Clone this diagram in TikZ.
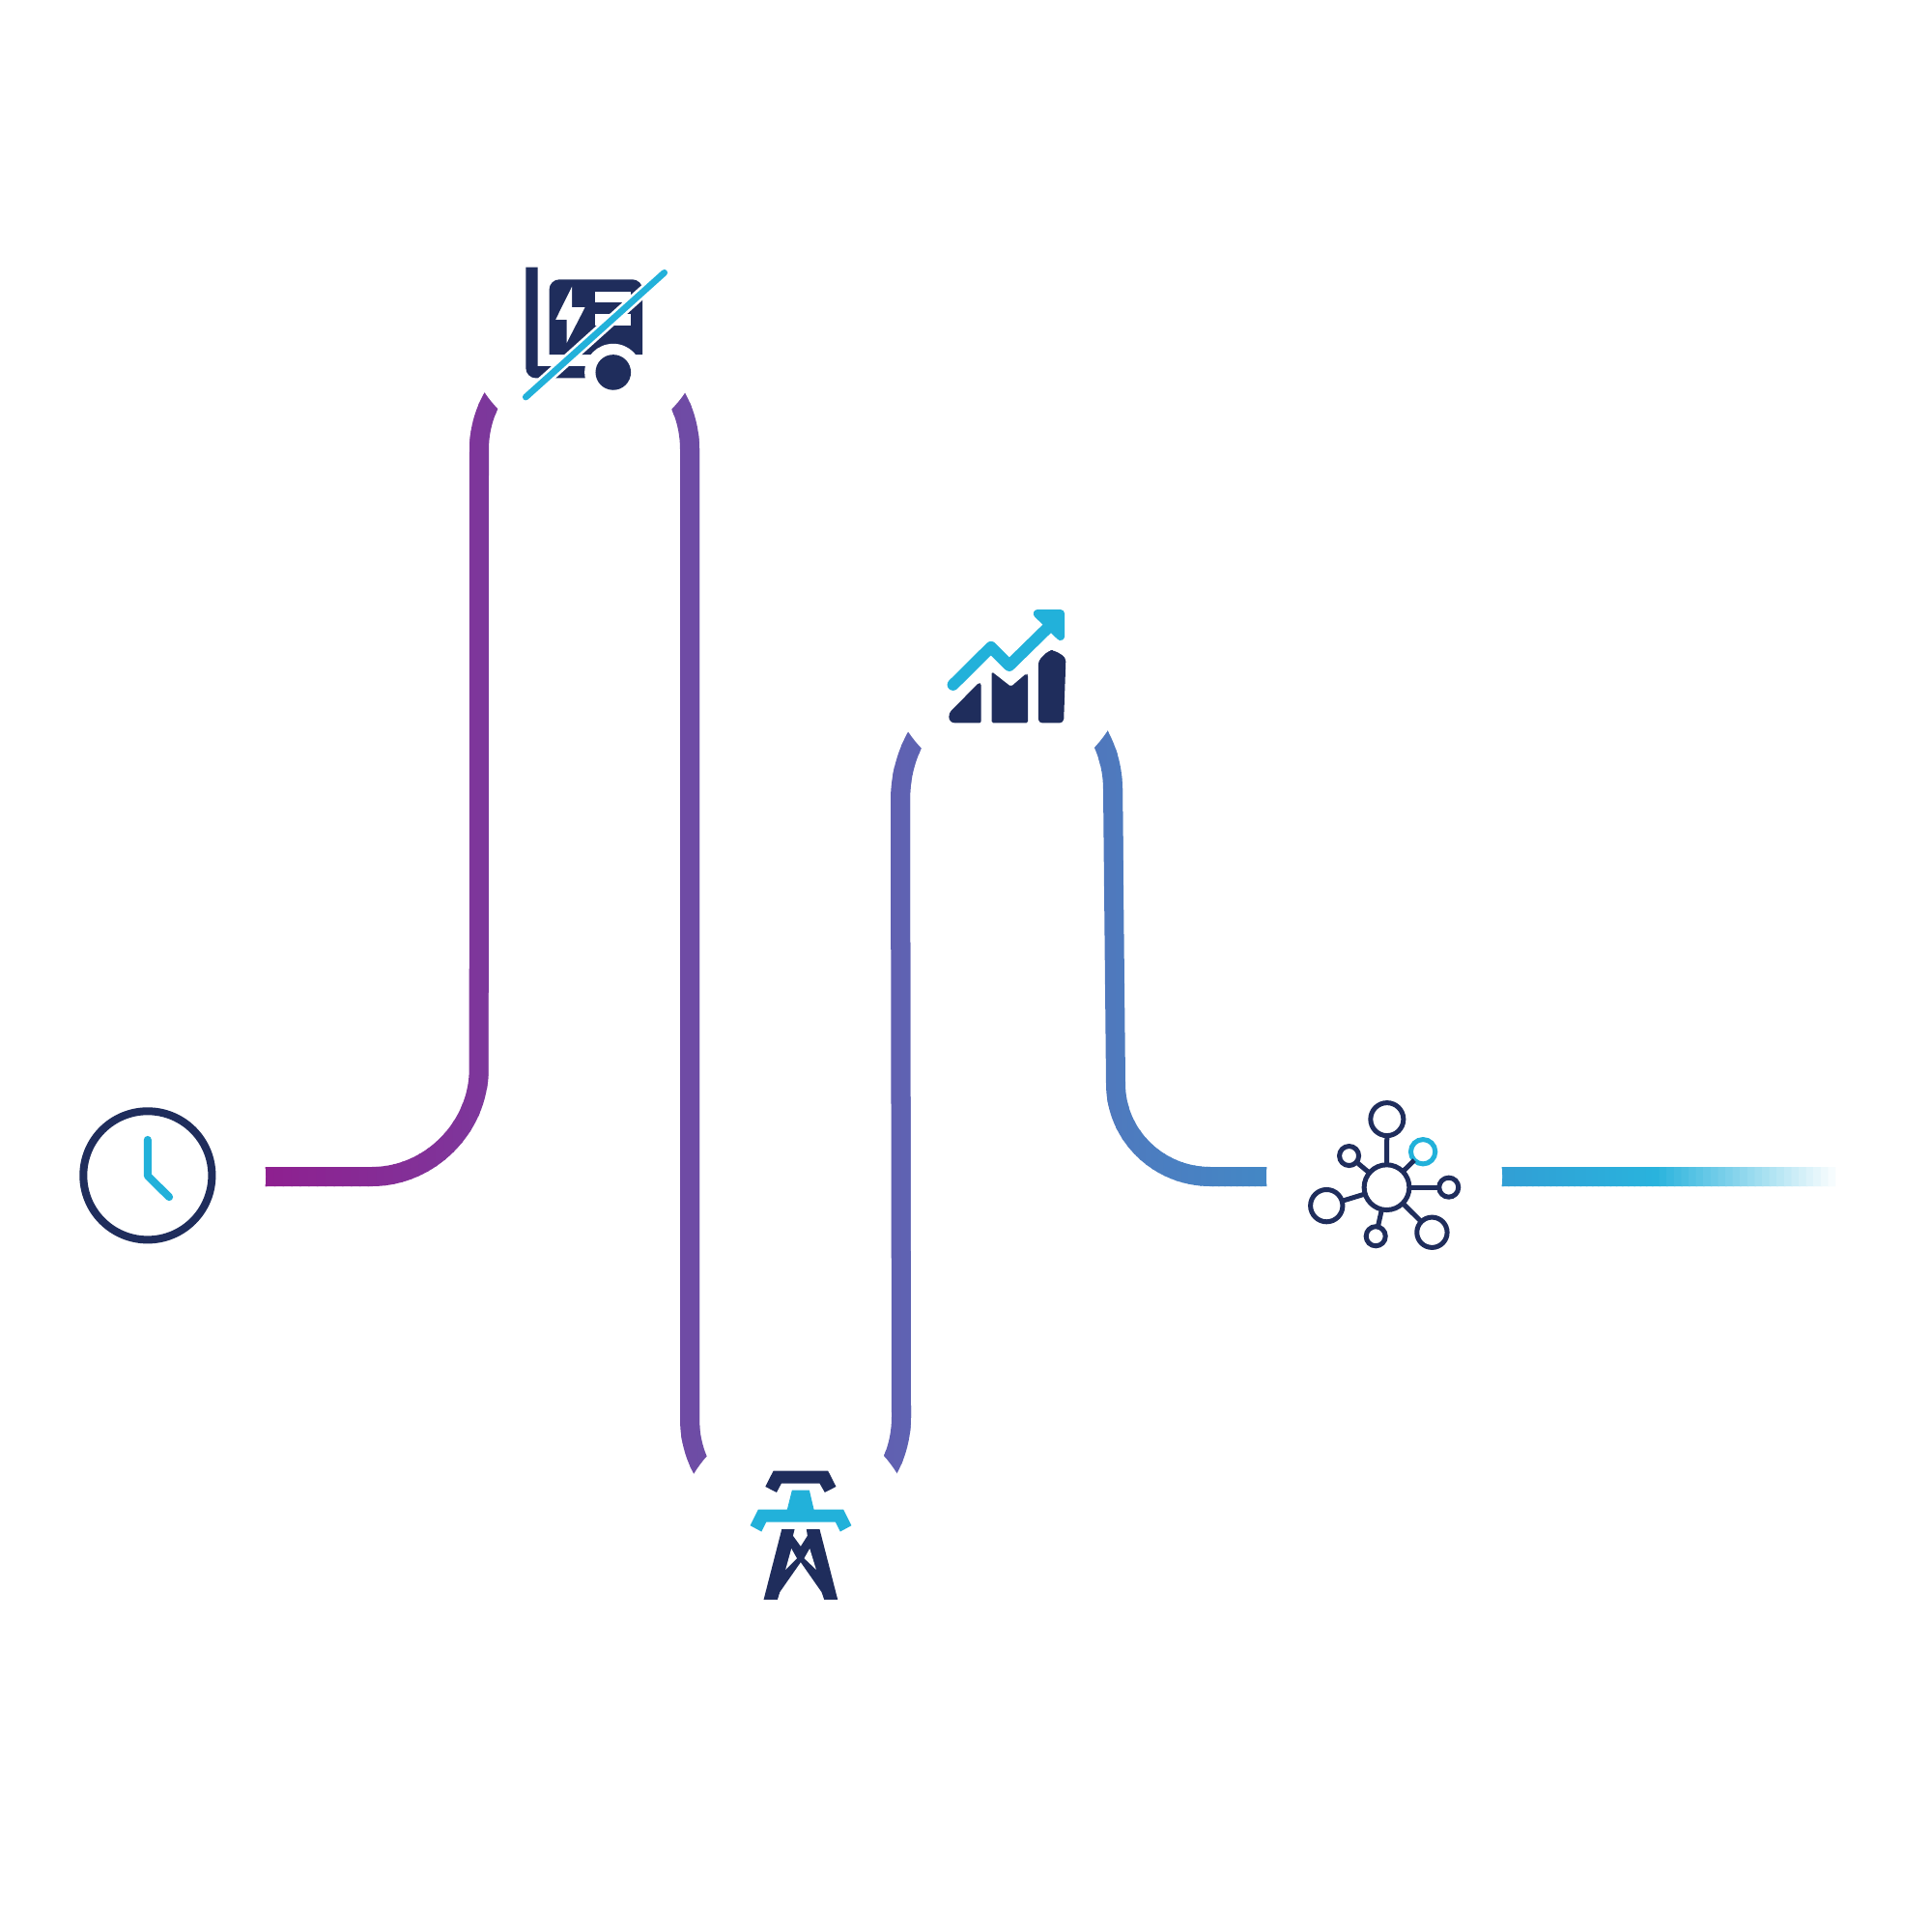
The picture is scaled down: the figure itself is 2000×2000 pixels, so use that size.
\documentclass[tikz,border=0pt]{standalone}
\usetikzlibrary{calc}

\definecolor{iconnavy}{HTML}{1F2D5C}
\definecolor{iconblue}{HTML}{22B1DA}

\tikzset{
    zoomunits/.style={x=0.0033333cm,y=-0.0033333cm},
    navyfill/.style={fill=iconnavy},
    bluefill/.style={fill=iconblue},
    ringnode/.style={circle,draw=iconnavy,line width=0.05cm,inner sep=0pt,outer sep=0pt,fill=white},
    spoke/.style={draw=iconnavy,line width=0.05cm},
}

% Percorso della linea colorata
\newcommand{\trackpath}{
    (250,1218) -- (385,1218) .. controls (445,1218) and (495.7,1167) .. (495.7,1107)
    -- (496,465) .. controls (496,405) and (545,356) .. (606,356)
    .. controls (667,356) and (714,405) .. (714,465)
    -- (714,1469) .. controls (714,1530) and (763,1578) .. (823,1578)
    .. controls (883,1578) and (933,1530) .. (933,1467)
    -- (932,828) .. controls (932,760) and (982,703) .. (1042,703)
    .. controls (1102,703) and (1152,754) .. (1152,817)
    -- (1155,1122) .. controls (1155,1175) and (1199,1218) .. (1253,1218)
    -- (1900,1218)
}

\begin{document}
\begin{tikzpicture}[x=0.01cm,y=-0.01cm]

    \useasboundingbox (0,0) rectangle (2000,2000);
    \fill[white] (0,0) rectangle (2000,2000);

    % Linea con sfumatura orizzontale, a bande
    \foreach \xa/\xb/\cola/\colb in {
        250/275/8E2090/8E2090, 275/495/8E2090/7D379B, 495/714/7D379B/6E4CA5,
        714/933/6E4CA5/5F62B2, 933/1155/5F62B2/4E7ABE, 1155/1311/4E7ABE/4388C6,
        1311/1555/4388C6/319FD5, 1555/1710/319FD5/29B3DD, 1710/1900/29B3DD/FFFFFF} {
        \definecolor{bandstart}{HTML}{\cola}
        \definecolor{bandend}{HTML}{\colb}
        \foreach \pct in {0,4,...,96} {
            \pgfmathsetmacro{\xband}{\xa+\pct/100*(\xb-\xa)}
            \pgfmathsetmacro{\xnext}{\xband+0.04*(\xb-\xa)+1.5}
            \colorlet{bandcol}{bandend!\pct!bandstart}
            \begin{scope}
                \clip (\xband,0) rectangle (\xnext,2000);
                \draw[bandcol,line width=0.2cm] \trackpath;
            \end{scope}
        }
    }

    % Dischi bianchi attorno alle icone
    \fill[white] (153,1218) circle (122);
    \fill[white] (605.5,336.5) circle (125);
    \fill[white] (823.5,1589.5) circle (123);
    \fill[white] (1043,689) circle (123.5);
    \fill[white] (1433,1218) circle (122);

    % Orologio
    \begin{scope}[shift={(60,1120)},zoomunits]
        \draw[iconnavy,line width=0.08cm] (279,291) circle (200);
        \draw[iconblue,line width=0.08cm,line cap=round,line join=round] (279,180) -- (279,292) -- (346,358);
    \end{scope}

    % Generatore barrato
    \begin{scope}[shift={(500,250)},zoomunits]
        \fill[navyfill] (206,352) -- (206,150) .. controls (206,132) and (220,118) .. (238,118)
            -- (464,118) .. controls (482,118) and (496,132) .. (496,150) -- (496,352) -- cycle;
        \fill[navyfill] (133,80) -- (170,80) -- (170,388) -- (340,388) -- (340,425) -- (165,425)
            .. controls (147,425) and (133,411) .. (133,393) -- cycle;
        \fill[white] (350,155) rectangle (459,190);
        \fill[white] (350,225) rectangle (459,262);
        \fill[white] (277,140) -- (226,243) -- (260,243) -- (260,316) -- (317,205) -- (277,205) -- cycle;
        \fill[white] (405,407) circle (89);
        \fill[navyfill] (405,407) circle (55);
        \draw[white,line width=0.12cm] (133,484) -- (564,97);
        \draw[iconblue,line width=0.0667cm,line cap=round] (133,484) -- (564,97);
    \end{scope}

    % Traliccio
    \begin{scope}[shift={(750,1500)},zoomunits]
        \fill[navyfill] (152,68) -- (322,68) -- (347,117) -- (312,135) -- (296,107) -- (177,107) -- (162,135) -- (127,117) -- cycle;
        \fill[bluefill] (210,128) -- (264,128) -- (278,188) -- (370,188) -- (395,238) -- (360,257) -- (345,227)
            -- (130,227) -- (115,257) -- (80,238) -- (105,188) -- (195,188) -- cycle;
        \fill[navyfill] (178,250) -- (218,250) -- (213,270) -- (237,303) -- (258,270) -- (255,250) -- (296,250)
            -- (352,468) -- (310,468) -- (302,445) -- (237,352) -- (172,445) -- (165,468) -- (122,468) -- cycle;
        \fill[white] (208,310) -- (225,340) -- (190,375) -- cycle;
        \fill[white] (265,310) -- (248,340) -- (285,375) -- cycle;
    \end{scope}

    % Grafico con freccia
    \begin{scope}[shift={(950,610)},zoomunits]
        \draw[iconblue,line width=0.12cm,line cap=round,line join=round] (110,297) -- (228,180) -- (285,237) -- (425,100);
        \fill[bluefill,draw=iconblue,line width=0.087cm,line join=round] (373,76) -- (444,76) -- (444,146) -- cycle;
        \fill[navyfill] (104,378) -- (186,295) .. controls (191,290) and (197,291) .. (197,298)
            -- (197,410) .. controls (197,414) and (195,416) .. (191,416) -- (117,416)
            .. controls (105,416) and (97,408) .. (97,397) .. controls (97,389) and (100,382) .. (104,378) -- cycle;
        \fill[navyfill,rounded corners=0.5pt] (230,256) -- (290,303) -- (338,262) -- (343,266) -- (343,416) -- (230,416) -- cycle;
        \fill[navyfill,rounded corners=1.2pt] (375,222) -- (408,190) -- (425,190) -- (461,212) -- (454,416) -- (375,416) -- cycle;
    \end{scope}

    % Rete
    \begin{scope}[shift={(1330,1120)},zoomunits]
        \node[ringnode,minimum size=0.467cm] (hubring) at (317,328) {};
        \node[ringnode,minimum size=0.34cm] (topring) at (318,116) {};
        \node[ringnode,minimum size=0.253cm,draw=iconblue] (bluering) at (430,217) {};
        \node[ringnode,minimum size=0.2cm] (rightring) at (510,328) {};
        \node[ringnode,minimum size=0.313cm] (lowring) at (458,468) {};
        \node[ringnode,minimum size=0.2cm] (bottomring) at (283,480) {};
        \node[ringnode,minimum size=0.333cm] (leftring) at (130,385) {};
        \node[ringnode,minimum size=0.2cm] (upring) at (200,230) {};
        \foreach \ringname in {topring,bluering,rightring,lowring,bottomring,leftring,upring}
            \draw[spoke] (hubring) -- (\ringname);
    \end{scope}

\end{tikzpicture}
\end{document}
